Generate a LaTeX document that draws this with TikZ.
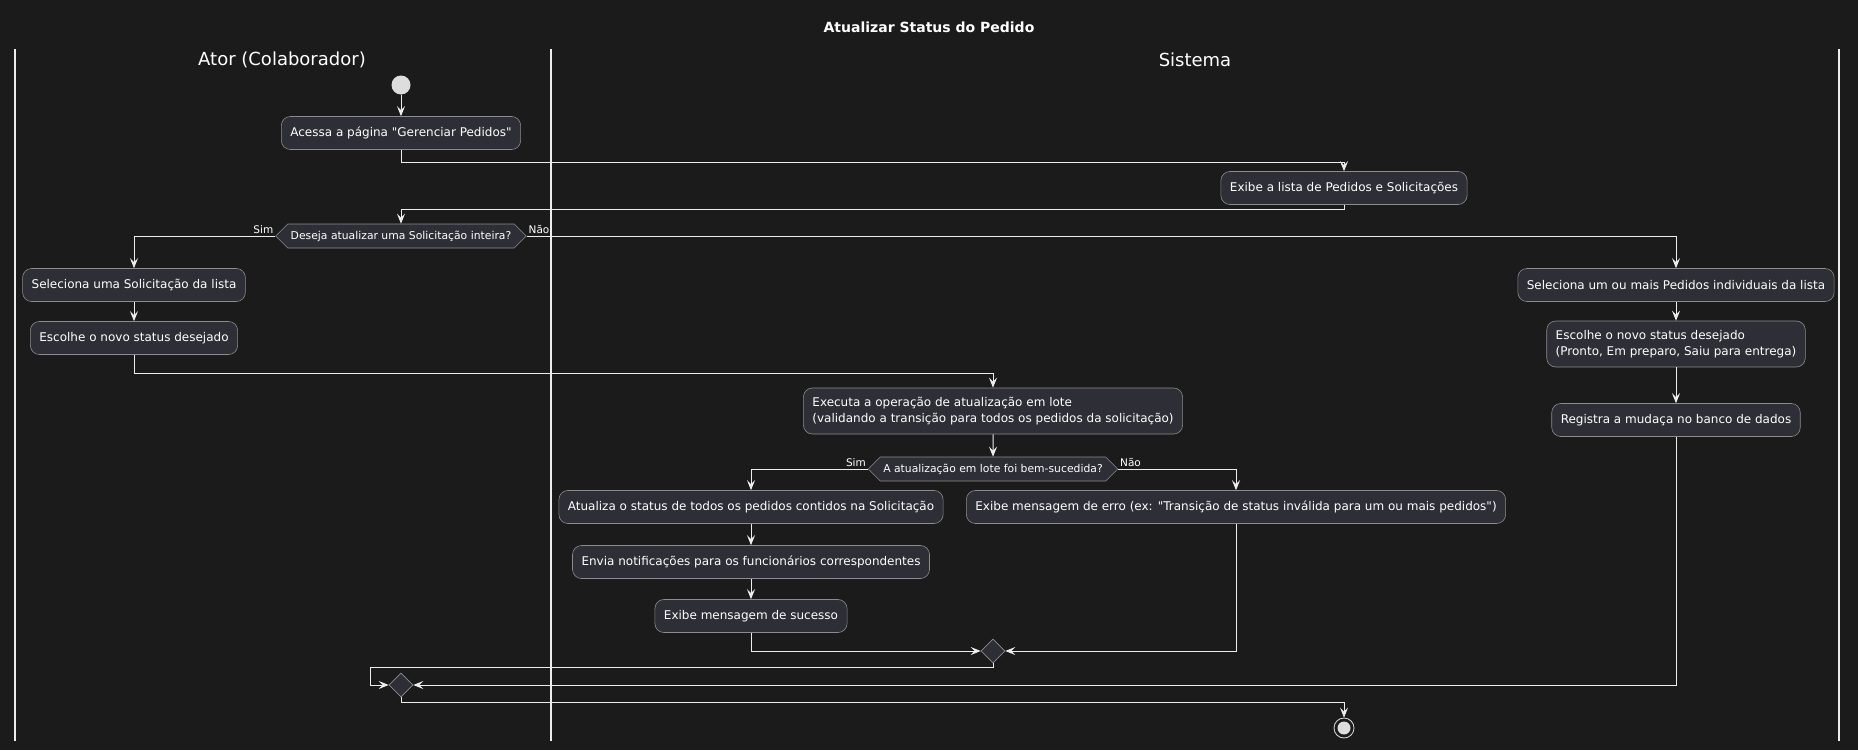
\documentclass[tikz,border=0pt]{standalone}
\usepackage{fontspec}
\setmainfont{DejaVu Sans}[Ligatures=TeXOff]
\usetikzlibrary{positioning,arrows.meta,shapes.geometric,shapes.symbols}

\definecolor{bgcol}{HTML}{1B1B1B}
\definecolor{boxfill}{HTML}{2E2E36}
\definecolor{boxline}{HTML}{8C8C8C}
\definecolor{linecol}{HTML}{EDEDED}
\definecolor{dotcol}{HTML}{DDDDDD}

\begin{document}
\begin{tikzpicture}[x=1pt, y=-1pt,
    every node/.style={text=white},
    act/.style={draw=boxline, fill=boxfill, rounded corners=9pt, line width=0.6pt,
      minimum height=33pt, inner xsep=9pt, font=\fontsize{12}{16}\selectfont},
    twoline/.style={minimum height=46pt},
    ask/.style={draw=boxline, fill=boxfill, signal, signal to=west and east, line width=0.6pt,
      minimum height=24pt, inner xsep=3pt, inner ysep=2pt, font=\fontsize{10.8}{13}\selectfont},
    merge/.style={draw=boxline, fill=boxfill, diamond, minimum size=24pt, inner sep=0pt, line width=0.6pt},
    flow/.style={draw=linecol, line width=1pt, -{Stealth[length=10pt, width=8pt, inset=4pt]}},
    lane/.style={draw=linecol, line width=1.2pt},
    tag/.style={font=\fontsize{10.5}{12}\selectfont, inner sep=1.5pt}]
    \fill[bgcol] (0,0) rectangle (1858,750);

    \node[font=\bfseries\fontsize{14}{16}\selectfont] (title) at (929,27) {Atualizar Status do Pedido};
    \draw[lane] (15,49) -- (15,741);
    \draw[lane] (551,49) -- (551,741);
    \draw[lane] (1839,49) -- (1839,741);
    \node[font=\fontsize{18}{21}\selectfont] (ator) at (282,60) {Ator (Colaborador)};
    \node[font=\fontsize{18}{21}\selectfont] (sistema) at (1195,60) {Sistema};

    \node[circle, fill=dotcol, minimum size=19pt, inner sep=0pt] (start) at (401,85) {};
    \node[act] (acessa) at (401,133) {Acessa a página "Gerenciar Pedidos"};
    \node[act] (exibe) at (1344,188) {Exibe a lista de Pedidos e Solicitações};
    \node[ask] (q1) at (401,236) {Deseja atualizar uma Solicitação inteira?};
    \node[act] (selsol) at (134,285) {Seleciona uma Solicitação da lista};
    \node[act] (escsol) at (134,338) {Escolhe o novo status desejado};
    \node[act] (selped) at (1676,285) {Seleciona um ou mais Pedidos individuais da lista};
    \node[act, twoline, align=left] (escped) at (1676,344) {Escolhe o novo status desejado\\(Pronto, Em preparo, Saiu para entrega)};
    \node[act] (registra) at (1676,420) {Registra a mudaça no banco de dados};
    \node[act, twoline, align=left] (exec) at (993,411) {Executa a operação de atualização em lote\\(validando a transição para todos os pedidos da solicitação)};
    \node[ask] (q2) at (993,469) {A atualização em lote foi bem-sucedida?};
    \node[act] (atualiza) at (751,507) {Atualiza o status de todos os pedidos contidos na Solicitação};
    \node[act] (envia) at (751,562) {Envia notificações para os funcionários correspondentes};
    \node[act] (sucesso) at (751,616) {Exibe mensagem de sucesso};
    \node[act] (erro) at (1236,507) {Exibe mensagem de erro (ex: "Transição de status inválida para um ou mais pedidos")};
    \node[merge] (m1) at (993,651) {};
    \node[merge] (m2) at (401,685) {};
    \node[circle, draw=dotcol, line width=0.8pt, minimum size=20pt, inner sep=0pt] (stop) at (1344,728) {};
    \fill[dotcol] (stop.center) circle (6.5pt);

    \draw[flow] (start) -- (acessa);
    \draw[flow] (acessa.south) -- ++(0,13) -| (exibe.north);
    \draw[flow] (exibe.south) -- ++(0,5) -| (q1.north);
    \draw[flow] (q1.west) -| node[tag, pos=0, above left] {Sim} (selsol.north);
    \draw[flow] (q1.east) -| node[tag, pos=0, above right] {Não} (selped.north);
    \draw[flow] (selsol) -- (escsol);
    \draw[flow] (escsol.south) -- ++(0,19) -| (exec.north);
    \draw[flow] (selped) -- (escped);
    \draw[flow] (escped) -- (registra);
    \draw[flow] (exec) -- (q2);
    \draw[flow] (q2.west) -| node[tag, pos=0, above left] {Sim} (atualiza.north);
    \draw[flow] (q2.east) -| node[tag, pos=0, above right] {Não} (erro.north);
    \draw[flow] (atualiza) -- (envia);
    \draw[flow] (envia) -- (sucesso);
    \draw[flow] (sucesso.south) |- (m1.west);
    \draw[flow] (erro.south) |- (m1.east);
    \draw[flow] (m1.south) -- ++(0,4) -| ([xshift=-18pt]m2.west) -- (m2.west);
    \draw[flow] (registra.south) |- (m2.east);
    \draw[flow] (m2.south) -- ++(0,5) -| (stop.north);
\end{tikzpicture}
\end{document}
